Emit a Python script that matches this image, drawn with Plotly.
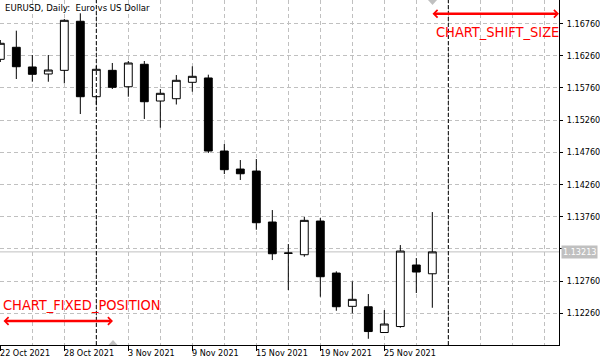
import plotly.graph_objects as go

# ---------------- data ----------------
dates = ["2021-10-22", "2021-10-25", "2021-10-26", "2021-10-27", "2021-10-28", "2021-10-29",
         "2021-11-01", "2021-11-02", "2021-11-03", "2021-11-04", "2021-11-05", "2021-11-08",
         "2021-11-09", "2021-11-10", "2021-11-11", "2021-11-12", "2021-11-15", "2021-11-16",
         "2021-11-17", "2021-11-18", "2021-11-19", "2021-11-22", "2021-11-23", "2021-11-24",
         "2021-11-25", "2021-11-26", "2021-11-29", "2021-11-30"]
open_ = [1.16205, 1.16392, 1.16086, 1.15977, 1.16034, 1.16796, 1.15624, 1.16034, 1.15779, 1.16128,
         1.15557, 1.15593, 1.15848, 1.15915, 1.14780, 1.14500, 1.14469, 1.13677, 1.13190, 1.13169,
         1.13692, 1.12884, 1.12367, 1.12360, 1.11960, 1.12053, 1.13009, 1.12873]
high = [1.16505, 1.16650, 1.16272, 1.16272, 1.16832, 1.16920, 1.16101, 1.16148, 1.16179, 1.16179,
        1.15744, 1.15961, 1.16096, 1.15966, 1.14889, 1.14640, 1.14656, 1.13863, 1.13335, 1.13755,
        1.13739, 1.12911, 1.12755, 1.12558, 1.12309, 1.13319, 1.13117, 1.13832]
low = [1.16163, 1.15899, 1.15857, 1.15857, 1.15832, 1.15355, 1.15500, 1.15744, 1.15624, 1.15278,
       1.15142, 1.15503, 1.15702, 1.14749, 1.14423, 1.14330, 1.13557, 1.13086, 1.12620, 1.13138,
       1.12516, 1.12298, 1.12258, 1.11863, 1.11958, 1.12034, 1.12574, 1.12345]
close = [1.16454, 1.16090, 1.15972, 1.16039, 1.16811, 1.15624, 1.16050, 1.15770, 1.16148, 1.15546,
         1.15677, 1.15879, 1.15941, 1.14780, 1.14490, 1.14427, 1.13666, 1.13184, 1.13195, 1.13703,
         1.12827, 1.12361, 1.12476, 1.11975, 1.12092, 1.13226, 1.12900, 1.13213]

x_tick_dates = ["2021-10-22", "2021-10-28", "2021-11-03", "2021-11-09", "2021-11-15", "2021-11-19", "2021-11-25"]
x_tick_labels = ["22 Oct 2021", "28 Oct 2021", "3 Nov 2021", "9 Nov 2021", "15 Nov 2021", "19 Nov 2021", "25 Nov 2021"]
y_ticks = [1.12260, 1.12760, 1.13260, 1.13760, 1.14260, 1.14760, 1.15260, 1.15760, 1.16260, 1.16760]

title_text = "EURUSD, Daily:  Euro vs US Dollar"
fixed_position_date = "2021-11-01"
shift_label = "CHART_SHIFT_SIZE"
fixed_label = "CHART_FIXED_POSITION"

# ---------------- figure ----------------
FONT = "DejaVu Sans Condensed, DejaVu Sans, sans-serif"
GRID = "#c0c0c0"
idx = list(range(len(dates)))
tick_pos = [dates.index(d) for d in x_tick_dates]
fixed_pos = dates.index(fixed_position_date)
shift_pos = len(dates)
last_price = close[-1]

fig = go.Figure()
fig.add_trace(go.Candlestick(
    x=idx, open=open_, high=high, low=low, close=close,
    increasing=dict(line=dict(color="black", width=1), fillcolor="white"),
    decreasing=dict(line=dict(color="black", width=1), fillcolor="black"),
    whiskerwidth=0, showlegend=False, hoverinfo="skip",
))

W, H = 600, 364
ml, mr, mt, mb = 0, 41, 0, 19
pw, ph = W - ml - mr, H - mt - mb

fig.update_layout(
    width=W, height=H,
    margin=dict(l=ml, r=mr, t=mt, b=mb, pad=0),
    paper_bgcolor="white", plot_bgcolor="white",
    font=dict(family=FONT, size=9, color="black"),
    showlegend=False, hovermode=False,
)
fig.update_xaxes(
    range=[-0.02, -0.02 + pw / 16.0],
    rangeslider=dict(visible=False),
    tickmode="array", tickvals=tick_pos, ticktext=[""] * len(tick_pos),
    showticklabels=False,
    ticks="outside", ticklen=5, tickcolor="black", tickwidth=1,
    showgrid=True, gridcolor=GRID, griddash="4px,3px", gridwidth=1,
    minor=dict(tickmode="linear", tick0=0, dtick=2, showgrid=True, gridcolor=GRID,
               griddash="4px,3px", gridwidth=1, ticks=""),
    showline=True, linecolor="black", linewidth=1, mirror=True, zeroline=False,
)
# the price tag hides the tick label it covers (as in the terminal)
y_ticktext = ["" if abs(v - last_price) < 0.0008 else f"{v:.5f}" for v in y_ticks]
fig.update_yaxes(
    side="right",
    range=[1.117662, 1.171267],
    tickmode="array", tickvals=y_ticks, ticktext=y_ticktext,
    ticks="outside", ticklen=3, tickcolor="black", tickwidth=1,
    ticklabelstandoff=2,
    showgrid=True, gridcolor=GRID, griddash="4px,3px", gridwidth=1,
    showline=True, linecolor="black", linewidth=1, mirror=True, zeroline=False,
    tickfont=dict(family=FONT, size=9, color="black"),
)

shapes = []
# current price line
shapes.append(dict(type="line", xref="x domain", x0=0, x1=1, yref="y", y0=last_price, y1=last_price,
                   line=dict(color=GRID, width=1), layer="below"))
# fixed position and shift dashed lines
for xp in (fixed_pos, shift_pos):
    shapes.append(dict(type="line", xref="x", x0=xp, x1=xp, yref="y domain", y0=0, y1=1,
                       line=dict(color="black", width=1, dash="4px,2px"), layer="above"))
# gray triangles
tx_top = 432.5 / pw
tx_bot = 113.0 / pw
hw = 4.5 / pw
th = 5.0 / ph
shapes.append(dict(type="path", xref="x domain", yref="y domain",
                   path=f"M {tx_top-hw} 1 L {tx_top+hw} 1 L {tx_top} {1-th} Z",
                   fillcolor=GRID, line=dict(width=0), layer="above"))
shapes.append(dict(type="path", xref="x domain", yref="y domain",
                   path=f"M {tx_bot-hw} 0 L {tx_bot+hw} 0 L {tx_bot} {th} Z",
                   fillcolor=GRID, line=dict(width=0), layer="above"))
fig.update_layout(shapes=shapes)

ann = []
# x tick labels (left aligned at tick as in MetaTrader)
for p, lab in zip(tick_pos, x_tick_labels):
    ann.append(dict(x=p, xref="x", y=0, yref="y domain", yanchor="top", xanchor="left",
                    text=lab, showarrow=False, xshift=-2, yshift=-1,
                    font=dict(family=FONT, size=9, color="black")))
# title
ann.append(dict(x=0, xref="x domain", y=1, yref="y domain", xanchor="left", yanchor="top",
                text=title_text, showarrow=False, xshift=3, yshift=0,
                font=dict(family=FONT, size=9.5, color="black")))
# current price label
ann.append(dict(x=1, xref="x domain", y=last_price, yref="y", xanchor="left", yanchor="middle",
                text=f"{last_price:.5f}", showarrow=False, xshift=2, bgcolor=GRID, borderpad=1,
                font=dict(family=FONT, size=9, color="white")))
# red arrows
RED = "#ff0000"
ann.append(dict(x=1, xref="x domain", y=1 - 13.7 / ph, yref="y domain", ax=-128, ay=0,
                text="", showarrow=True, arrowcolor=RED, arrowwidth=2.5,
                arrowhead=4, arrowsize=0.6, arrowside="end+start",
                startarrowhead=4, startarrowsize=0.6, standoff=0, startstandoff=0))
ann.append(dict(x=497 / pw, xref="x domain", y=1 - 32.2 / ph, yref="y domain",
                xanchor="center", yanchor="middle", text=shift_label, showarrow=False,
                font=dict(family=FONT, size=14.5, color=RED)))
ann.append(dict(x=113 / pw, xref="x domain", y=1 - 321 / ph, yref="y domain", ax=-111, ay=0,
                text="", showarrow=True, arrowcolor=RED, arrowwidth=2.5,
                arrowhead=4, arrowsize=0.6, arrowside="end+start",
                startarrowhead=4, startarrowsize=0.6, standoff=0, startstandoff=0))
ann.append(dict(x=82 / pw, xref="x domain", y=1 - 305.3 / ph, yref="y domain",
                xanchor="center", yanchor="middle", text=fixed_label, showarrow=False,
                font=dict(family=FONT, size=14.5, color=RED)))
fig.update_layout(annotations=ann)

fig.write_html("out.html", config={"displayModeBar": False, "staticPlot": True},
               post_script="document.body.style.margin='0';document.body.style.padding='0';")
